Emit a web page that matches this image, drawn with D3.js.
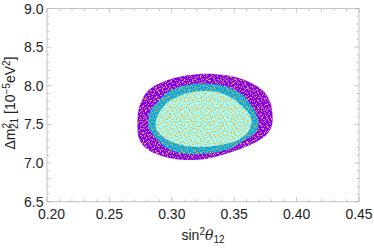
<!DOCTYPE html>
<html>
<head>
<meta charset="utf-8">
<script src="https://cdn.jsdelivr.net/npm/d3@7"></script>
<style>
  body { margin: 0; background: white; }
  svg { display: block; }
</style>
</head>
<body>
<div id="chart"></div>
<script>
// allowed-region contours: [sin^2 theta12, dm21^2 (1e-5 eV^2)]
var outerRegion = [
  [0.2725, 7.453], [0.2733, 7.685], [0.2761, 7.815], [0.2801, 7.918], [0.2873, 8.009],
  [0.2986, 8.086], [0.3106, 8.131], [0.3266, 8.157], [0.3426, 8.138], [0.3548, 8.093],
  [0.3667, 8.009], [0.3748, 7.905], [0.3791, 7.776], [0.3807, 7.621], [0.3803, 7.492],
  [0.3771, 7.388], [0.3715, 7.311], [0.3627, 7.233], [0.3530, 7.168], [0.3402, 7.104],
  [0.3266, 7.052], [0.3146, 7.039], [0.3026, 7.052], [0.2921, 7.091], [0.2825, 7.155],
  [0.2761, 7.246], [0.2733, 7.336]
];
var middleRegion = [
  [0.2809, 7.491], [0.2817, 7.621], [0.2841, 7.711], [0.2879, 7.776], [0.2929, 7.866],
  [0.2999, 7.944], [0.3082, 7.996], [0.3186, 8.022], [0.3266, 8.028], [0.3386, 8.009],
  [0.3482, 7.963], [0.3562, 7.892], [0.3611, 7.802], [0.3659, 7.686], [0.3687, 7.582],
  [0.3695, 7.492], [0.3675, 7.401], [0.3611, 7.323], [0.3547, 7.259], [0.3482, 7.194],
  [0.3386, 7.149], [0.3266, 7.123], [0.3146, 7.117], [0.3034, 7.143], [0.2946, 7.207],
  [0.2889, 7.297], [0.2841, 7.388], [0.2817, 7.453]
];
var innerRegion = [
  [0.2869, 7.491], [0.2881, 7.595], [0.2913, 7.686], [0.2970, 7.789], [0.3050, 7.860],
  [0.3146, 7.912], [0.3242, 7.931], [0.3346, 7.925], [0.3426, 7.886], [0.3506, 7.815],
  [0.3571, 7.724], [0.3615, 7.647], [0.3639, 7.556], [0.3631, 7.466], [0.3595, 7.375],
  [0.3530, 7.297], [0.3426, 7.246], [0.3306, 7.214], [0.3194, 7.207], [0.3090, 7.227],
  [0.3002, 7.272], [0.2929, 7.336], [0.2885, 7.414]
];

var xTicks = [0.20, 0.25, 0.30, 0.35, 0.40, 0.45];
var yTicks = [6.5, 7.0, 7.5, 8.0, 8.5, 9.0];

var width = 374, height = 248;
var plotL = 47, plotR = 359, plotT = 8.5, plotB = 201.7;

var svg = d3.select("#chart").append("svg")
  .attr("width", width)
  .attr("height", height);

var x = d3.scaleLinear().domain([0.20, 0.45]).range([plotL, plotR]);
var y = d3.scaleLinear().domain([6.5, 9.0]).range([plotB, plotT]);

// speckle texture for the scanned points (overlapping tiles of different size)
var defs = svg.append("defs");
var speckA = [[0,0],[4,1],[8,2],[1,3],[6,4],[10,3],[3,5],[8,6],[5,2],[2,6]];
var speckB = [[1,0],[7,1],[11,2],[3,2],[9,4],[5,5],[0,6],[12,7],[6,8],[2,8],[10,0]];
var speckC = [[2,1],[9,0],[14,2],[5,3],[12,5],[0,5],[7,7],[16,8],[3,9],[10,10],[13,9],[6,0]];
function speckle(id, w, h, dots) {
  var p = defs.append("pattern")
    .attr("id", id)
    .attr("patternUnits", "userSpaceOnUse")
    .attr("width", w)
    .attr("height", h);
  p.selectAll("rect").data(dots).enter().append("rect")
    .attr("x", function(d) { return d[0]; })
    .attr("y", function(d) { return d[1]; })
    .attr("width", 1)
    .attr("height", 1)
    .style("fill", "#f4b535");
}
speckle("speckA", 11, 7, speckA);
speckle("speckB", 13, 9, speckB);
speckle("speckC", 17, 11, speckC);

var line = d3.line()
  .x(function(d) { return x(d[0]); })
  .y(function(d) { return y(d[1]); })
  .curve(d3.curveCatmullRomClosed);

svg.append("path").attr("d", line(outerRegion)).style("fill", "#8200fa");
svg.append("path").attr("d", line(middleRegion)).style("fill", "#00aaea");
svg.append("path").attr("d", line(innerRegion)).style("fill", "#a8fcf8");

["speckA", "speckB", "speckC"].forEach(function(id) {
  svg.append("path").attr("d", line(outerRegion))
    .style("fill", "url(#" + id + ")").style("opacity", 0.8);
});

// frame
svg.append("rect")
  .attr("x", plotL)
  .attr("y", plotT)
  .attr("width", plotR - plotL)
  .attr("height", plotB - plotT)
  .style("fill", "none")
  .style("stroke", "#c4c4c4")
  .style("stroke-width", 1);

var tickColor = "#b8b8b8";
var xMinor = d3.range(0, 26).map(function(i) { return 0.20 + i * 0.01; });
var yMinor = d3.range(0, 26).map(function(i) { return 6.5 + i * 0.1; });

function isMajor(v, list) {
  return list.some(function(t) { return Math.abs(t - v) < 1e-6; });
}

xMinor.forEach(function(v) {
  var len = isMajor(v, xTicks) ? 4.5 : 2.5;
  svg.append("line").attr("x1", x(v)).attr("x2", x(v)).attr("y1", plotB).attr("y2", plotB - len)
    .style("stroke", tickColor).style("stroke-width", 0.8);
  svg.append("line").attr("x1", x(v)).attr("x2", x(v)).attr("y1", plotT).attr("y2", plotT + len)
    .style("stroke", tickColor).style("stroke-width", 0.8);
});
yMinor.forEach(function(v) {
  var len = isMajor(v, yTicks) ? 4.5 : 2.5;
  svg.append("line").attr("y1", y(v)).attr("y2", y(v)).attr("x1", plotL).attr("x2", plotL + len)
    .style("stroke", tickColor).style("stroke-width", 0.8);
  svg.append("line").attr("y1", y(v)).attr("y2", y(v)).attr("x1", plotR).attr("x2", plotR - len)
    .style("stroke", tickColor).style("stroke-width", 0.8);
});

var font = "'Liberation Sans', Arial, sans-serif";

svg.selectAll(".xlab").data(xTicks).enter().append("text")
  .attr("x", function(d, i) { return x(d) + (i === 0 ? 4.5 : 0); })
  .attr("y", 218.5)
  .style("font-family", font)
  .style("font-size", "14px")
  .style("fill", "#222")
  .style("text-anchor", "middle")
  .text(function(d) { return d.toFixed(2); });

svg.selectAll(".ylab").data(yTicks).enter().append("text")
  .attr("x", 43.5)
  .attr("y", function(d) { return y(d) + 5; })
  .style("font-family", font)
  .style("font-size", "14px")
  .style("fill", "#222")
  .style("text-anchor", "end")
  .text(function(d) { return d.toFixed(1); });

// x axis title
var xt = svg.append("text")
  .attr("x", 203)
  .attr("y", 240)
  .style("font-family", font)
  .style("font-size", "14px")
  .style("fill", "#222")
  .style("text-anchor", "middle");
xt.append("tspan").text("sin");
xt.append("tspan").attr("dy", -5).style("font-size", "10px").text("2");
xt.append("tspan").attr("dy", 5).style("font-style", "italic").style("font-family", "'DejaVu Serif', serif").text("θ");
xt.append("tspan").attr("dy", 3).style("font-size", "10px").text("12");

// y axis title
var yt = svg.append("text")
  .attr("transform", "translate(14.5," + 103 + ") rotate(-90)")
  .style("font-family", font)
  .style("font-size", "14px")
  .style("fill", "#222")
  .style("text-anchor", "middle");
yt.append("tspan").text("Δm");
yt.append("tspan").attr("dy", -5).style("font-size", "10px").text("2");
yt.append("tspan").attr("dy", 8).attr("dx", -6).style("font-size", "10px").text("21");
yt.append("tspan").attr("dy", -3).text(" [10");
yt.append("tspan").attr("dy", -5).style("font-size", "10px").text("−5");
yt.append("tspan").attr("dy", 5).text("eV");
yt.append("tspan").attr("dy", -5).style("font-size", "10px").text("2");
yt.append("tspan").attr("dy", 5).text("]");
</script>
</body>
</html>
